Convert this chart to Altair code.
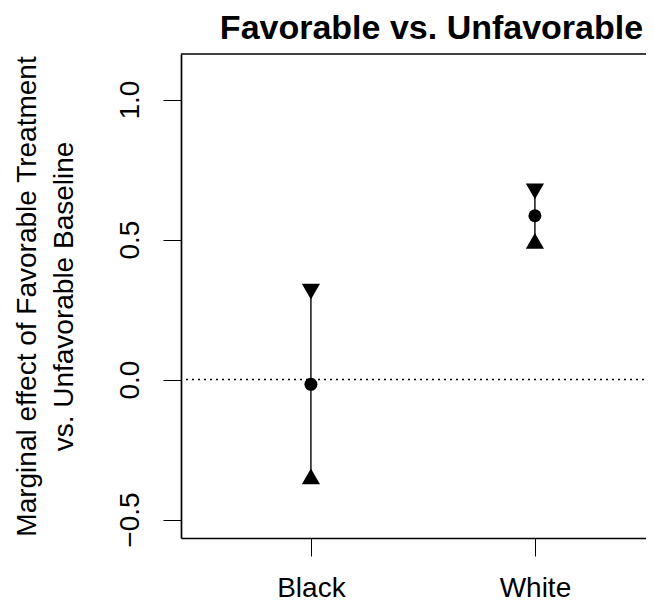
import altair as alt
import pandas as pd

# ---- data ----
groups = ["Black", "White"]
group_pos = [1, 2]
estimates = [-0.017, 0.585]
lower = [-0.355, 0.486]
upper = [0.323, 0.681]
y_ticks = [-0.5, 0.0, 0.5, 1.0]
title_text = "Favorable vs. Unfavorable"
y_title = ["Marginal effect of Favorable Treatment", "vs. Unfavorable Baseline"]

FONT = "Liberation Sans"
W, H = 475, 484
Y_MIN, Y_MAX = -0.566, 1.1626

df = pd.DataFrame({"group": groups, "pos": group_pos, "est": estimates,
                   "lo": lower, "hi": upper})
zero_df = pd.DataFrame({"z": [0.0]})
top_df = pd.DataFrame({"z": [Y_MAX]})
title_df = pd.DataFrame({"t": [title_text]})

x_scale = alt.Scale(domain=[0.42, 0.42 + W / 224.0], nice=False, zero=False)
y_scale = alt.Scale(domain=[Y_MIN, Y_MAX], nice=False, zero=False)

label_expr = "[" + ",".join("'" + g + "'" for g in groups) + "][datum.value - 1]"

x_axis = alt.Axis(values=group_pos, labelExpr=label_expr, title=None, grid=False,
                  domainColor="black", domainWidth=1.7, tickColor="black", tickWidth=1,
                  tickSize=18, labelFont=FONT, labelFontSize=28, labelColor="black",
                  labelPadding=40, labelBaseline="alphabetic", labelAngle=0,
                  labelAlign="center", labelFlush=False, labelOverlap=False)
y_axis = alt.Axis(values=y_ticks, format=".1f", title=y_title, grid=False,
                  domainColor="black", domainWidth=1.7, tickColor="black", tickWidth=1,
                  tickSize=18, labelFont=FONT, labelFontSize=28, labelColor="black",
                  labelAngle=270, labelAlign="center", labelBaseline="alphabetic",
                  labelPadding=25, labelFlush=False, labelOverlap=False,
                  titleFont=FONT, titleFontSize=28, titleFontWeight="normal",
                  titleColor="black", titleAngle=270, titleAlign="center",
                  titleBaseline="alphabetic", titleX=-146, titleY=242,
                  titleLineHeight=37)

X = alt.X("pos:Q", scale=x_scale, axis=x_axis)

zero_line = alt.Chart(zero_df).mark_rule(
    color="black", strokeWidth=1.3, strokeDash=[2, 4]
).encode(y=alt.Y("z:Q", scale=y_scale, axis=y_axis))

top_border = alt.Chart(top_df).mark_rule(color="black", strokeWidth=1.7).encode(
    y=alt.Y("z:Q", scale=y_scale, axis=y_axis))

bars = alt.Chart(df).mark_rule(color="black", strokeWidth=1.4).encode(
    x=X, y=alt.Y("lo:Q", scale=y_scale, axis=y_axis), y2="hi:Q")

points = alt.Chart(df).mark_point(
    filled=True, shape="circle", size=169, color="black", opacity=1
).encode(x=X, y=alt.Y("est:Q", scale=y_scale, axis=y_axis))

up_tri = alt.Chart(df).mark_point(
    filled=True, shape="M0,-1L0.866,0.5L-0.866,0.5Z", size=441, color="black", opacity=1
).encode(x=X, y=alt.Y("lo:Q", scale=y_scale, axis=y_axis))

down_tri = alt.Chart(df).mark_point(
    filled=True, shape="M0,1L0.866,-0.5L-0.866,-0.5Z", size=441, color="black", opacity=1
).encode(x=X, y=alt.Y("hi:Q", scale=y_scale, axis=y_axis))

title_mark = alt.Chart(title_df).mark_text(
    font=FONT, fontSize=34, fontWeight="bold", color="black",
    align="center", baseline="alphabetic"
).encode(text="t:N", x=alt.value(250.5), y=alt.value(-15.5))

chart = alt.layer(zero_line, top_border, bars, points, up_tri, down_tri,
                  title_mark).properties(
    width=W, height=H,
    autosize="none",
    padding={"left": 173, "top": 46, "right": -10, "bottom": 60},
).configure_view(stroke="transparent", strokeWidth=0)

chart.save("out.html", embed_options={"renderer": "svg", "actions": False})
